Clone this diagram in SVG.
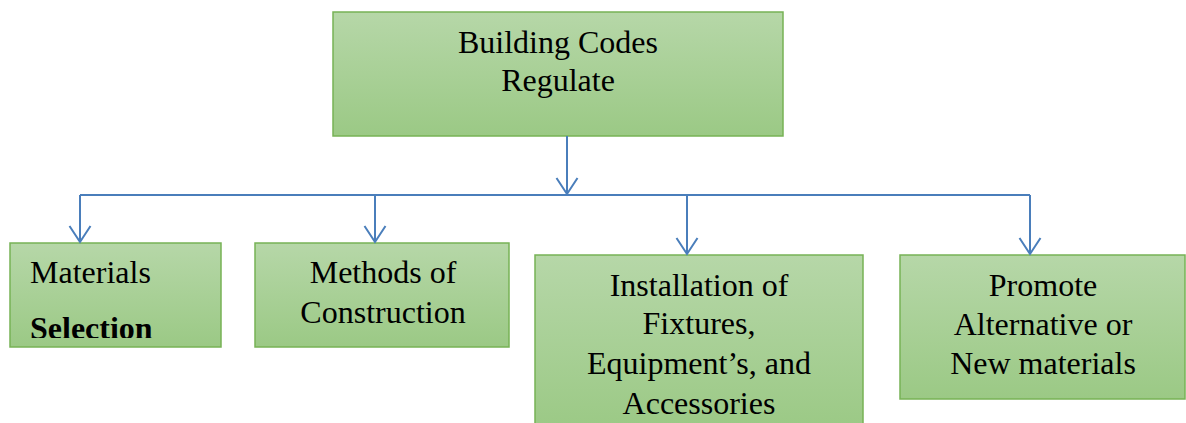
<svg xmlns="http://www.w3.org/2000/svg" width="1186" height="423" viewBox="0 0 1186 423">
<style>
.box{fill:url(#g);stroke:#77b255;stroke-width:1.5}
.t{font-family:"Liberation Serif","Tinos","Times New Roman","DejaVu Serif",serif;font-size:32px;fill:#000}
.c{text-anchor:middle}
.conn{fill:none;stroke:#4a7ebb;stroke-width:2}
</style>
<defs>
<linearGradient id="g" x1="0" y1="0" x2="0" y2="1">
<stop offset="0" stop-color="#b6d7a8"/>
<stop offset="1" stop-color="#9bc985"/>
</linearGradient>
<marker id="a" markerWidth="20" markerHeight="26" refX="17" refY="12" orient="auto" markerUnits="userSpaceOnUse" viewBox="0 0 20 26">
<path d="M1,1.5 L17,12 L1,22.5" fill="none" stroke="#4a7ebb" stroke-width="2"/>
</marker>
<clipPath id="clip1"><rect x="10" y="243" width="211" height="95"/></clipPath>
</defs>
<g id="node-top">
<rect class="box" x="333" y="12" width="450" height="124"/>
<text class="t c" x="558" y="53">Building Codes</text>
<text class="t c" x="558" y="91">Regulate</text>
</g>
<g id="node-materials">
<rect class="box" x="10" y="243" width="211" height="104"/>
<text class="t" x="30" y="283">Materials</text>
<text class="t" x="30" y="339" font-weight="bold" clip-path="url(#clip1)">Selection</text>
</g>
<g id="node-methods">
<rect class="box" x="255" y="243" width="254" height="104"/>
<text class="t c" x="383" y="283">Methods of</text>
<text class="t c" x="383" y="323">Construction</text>
</g>
<g id="node-installation">
<rect class="box" x="535" y="255" width="328" height="175"/>
<text class="t c" x="699" y="296">Installation of</text>
<text class="t c" x="699" y="334">Fixtures,</text>
<text class="t c" x="699" y="374">Equipment’s, and</text>
<text class="t c" x="699" y="414">Accessories</text>
</g>
<g id="node-promote">
<rect class="box" x="900" y="255" width="285" height="144"/>
<text class="t c" x="1043" y="296">Promote</text>
<text class="t c" x="1043" y="335">Alternative or</text>
<text class="t c" x="1043" y="374">New materials</text>
</g>
<g id="connectors">
<path class="conn" d="M567,136 V194" marker-end="url(#a)"/>
<path class="conn" d="M80,195 H1030"/>
<path class="conn" d="M80,195 V242" marker-end="url(#a)"/>
<path class="conn" d="M375,195 V242" marker-end="url(#a)"/>
<path class="conn" d="M687,195 V254" marker-end="url(#a)"/>
<path class="conn" d="M1030,195 V254" marker-end="url(#a)"/>
</g>
</svg>
